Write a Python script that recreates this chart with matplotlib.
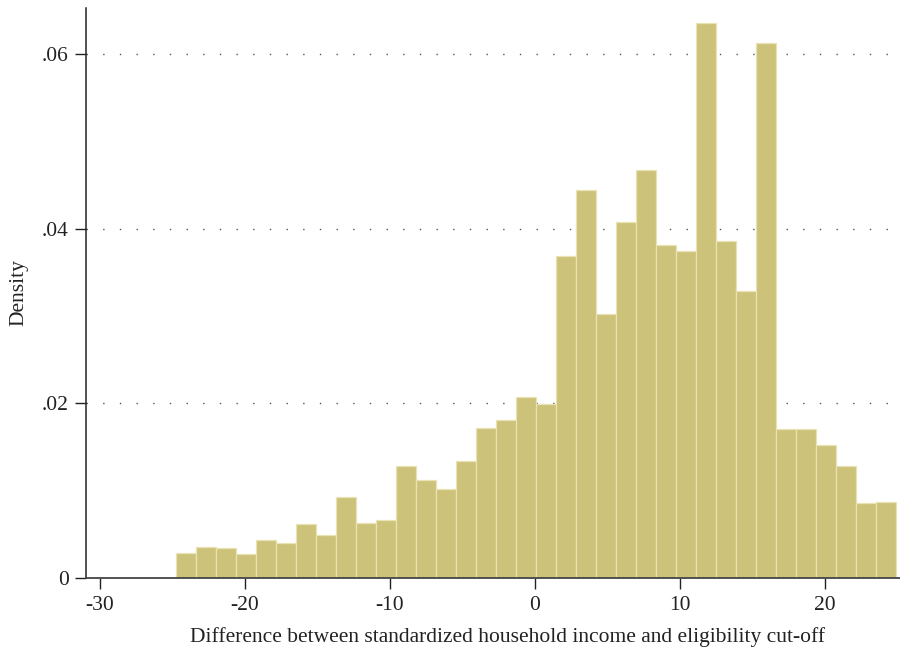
import numpy as np
import matplotlib.pyplot as plt

plt.rcParams['font.family'] = ['Liberation Serif', 'DejaVu Serif']
plt.rcParams['axes.unicode_minus'] = False

# histogram of income distance to the cut-off (density per bin)
bin_start = -24.76
bin_width = 1.381
density = [
    0.00290, 0.00358, 0.00340, 0.00275, 0.00432, 0.00397, 0.00618, 0.00492,
    0.00924, 0.00626, 0.00664, 0.01286, 0.01118, 0.01022, 0.01339, 0.01714,
    0.01809, 0.02069, 0.01990, 0.03692, 0.04438, 0.03024, 0.04076, 0.04675,
    0.03817, 0.03744, 0.06352, 0.03856, 0.03291, 0.06124, 0.01709, 0.01709,
    0.01524, 0.01283, 0.00852, 0.00864,
]
x_ticks = [-30, -20, -10, 0, 10, 20]
y_ticks = [0, 0.02, 0.04, 0.06]
y_tick_labels = ['0', '.02', '.04', '.06']

edges = bin_start + bin_width * np.arange(len(density))

fig = plt.figure(figsize=(9, 6.5), dpi=100)
ax = fig.add_axes([0.095, 0.111, 0.905, 0.877])

for y in y_ticks[1:]:
    ax.axhline(y, color='#555555', linestyle=(0, (1, 11)), linewidth=1.0, zorder=1)

ax.bar(edges, density, width=bin_width, align='edge',
       color='#CDC27A', edgecolor='#E9E3B4', linewidth=0.9, zorder=2)

ax.set_xlim(-31.0, 25.2)
ax.set_ylim(0, 0.0653)
ax.set_xticks(x_ticks)
ax.set_yticks(y_ticks)
ax.set_yticklabels(y_tick_labels)

for side in ['top', 'right']:
    ax.spines[side].set_visible(False)
ax.spines['left'].set_color('#222222')
ax.spines['bottom'].set_color('#444444')
ax.spines['left'].set_linewidth(1.1)
ax.spines['bottom'].set_linewidth(1.3)

ax.tick_params(axis='both', direction='out', length=8, width=1.0,
               colors='#222222', labelsize=15.5, pad=5)
ax.tick_params(axis='y', pad=4)

ax.set_xlabel('Difference between standardized household income and eligibility cut-off',
              fontsize=15.5, color='#222222')
ax.xaxis.set_label_coords(0.518, -0.086)
ax.set_ylabel('Density', fontsize=15.5, color='#222222', labelpad=10)

fig.savefig('out.png', dpi=100)
